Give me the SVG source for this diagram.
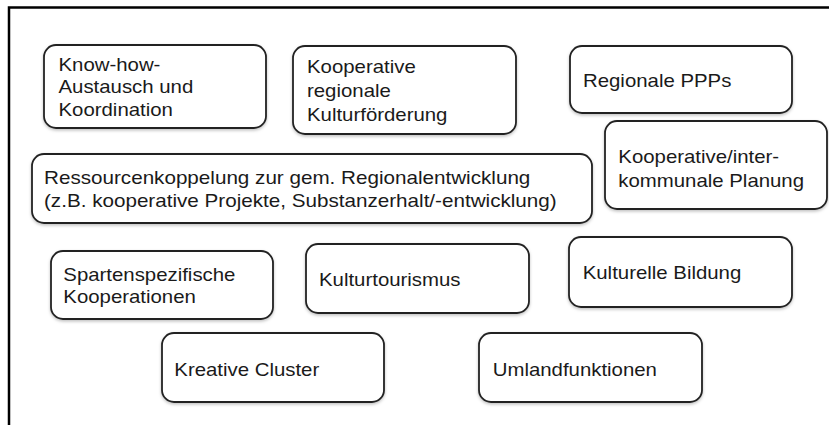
<svg xmlns="http://www.w3.org/2000/svg" width="829" height="425" viewBox="0 0 829 425">
<defs>
<filter id="sh" x="-5%" y="-5%" width="110%" height="120%">
<feDropShadow dx="0" dy="1.5" stdDeviation="1.5" flood-color="#000" flood-opacity="0.25"/>
</filter>
<style>
.box{fill:#fff;stroke:#222;stroke-width:1.8;filter:url(#sh)}
.t{font-family:"Liberation Sans",Arial,sans-serif;font-size:17.5px;fill:#1a1a1a}
.frame{fill:none;stroke:#000;stroke-width:2.5}
</style>
</defs>
<rect width="829" height="425" fill="#fff"/>
<path class="frame" d="M9,425 V7.5 H829"/>
<g id="connectors"/>
<g id="n1">
<rect class="box" x="44" y="45" width="222" height="83" rx="12"/>
<text class="t" transform="translate(58.5,70.7) scale(1.165,1)"><tspan x="0">Know-how-</tspan><tspan x="0" dy="22.8">Austausch und</tspan><tspan x="0" dy="22.8">Koordination</tspan></text>
</g>
<g id="n2">
<rect class="box" x="293" y="46" width="223" height="88" rx="12"/>
<text class="t" transform="translate(307,73.3) scale(1.165,1)"><tspan x="0">Kooperative</tspan><tspan x="0" dy="24">regionale</tspan><tspan x="0" dy="24">Kulturförderung</tspan></text>
</g>
<g id="n3">
<rect class="box" x="570" y="46" width="222" height="67" rx="12"/>
<text class="t" transform="translate(583,87.3) scale(1.165,1)">Regionale PPPs</text>
</g>
<g id="n4">
<rect class="box" x="605" y="121" width="222" height="88" rx="12"/>
<text class="t" transform="translate(618.3,163.3) scale(1.165,1)"><tspan x="0">Kooperative/inter-</tspan><tspan x="0" dy="23.4">kommunale Planung</tspan></text>
</g>
<g id="n5">
<rect class="box" x="32" y="154" width="560" height="69" rx="12"/>
<text class="t" transform="translate(44,184) scale(1.18,1)"><tspan x="0">Ressourcenkoppelung zur gem. Regionalentwicklung</tspan><tspan x="0" dy="23">(z.B. kooperative Projekte, Substanzerhalt/-entwicklung)</tspan></text>
</g>
<g id="n6">
<rect class="box" x="51" y="251" width="222" height="68" rx="12"/>
<text class="t" transform="translate(63.3,280.7) scale(1.165,1)"><tspan x="0">Spartenspezifische</tspan><tspan x="0" dy="22.6">Kooperationen</tspan></text>
</g>
<g id="n7">
<rect class="box" x="306" y="244" width="223" height="69" rx="12"/>
<text class="t" transform="translate(319,286) scale(1.165,1)">Kulturtourismus</text>
</g>
<g id="n8">
<rect class="box" x="569" y="237" width="223" height="70" rx="12"/>
<text class="t" transform="translate(582.7,279.3) scale(1.165,1)">Kulturelle Bildung</text>
</g>
<g id="n9">
<rect class="box" x="162" y="333" width="222" height="69" rx="12"/>
<text class="t" transform="translate(174.3,375.7) scale(1.165,1)">Kreative Cluster</text>
</g>
<g id="n10">
<rect class="box" x="479" y="333" width="223" height="69" rx="12"/>
<text class="t" transform="translate(492.7,375.7) scale(1.165,1)">Umlandfunktionen</text>
</g>
</svg>
